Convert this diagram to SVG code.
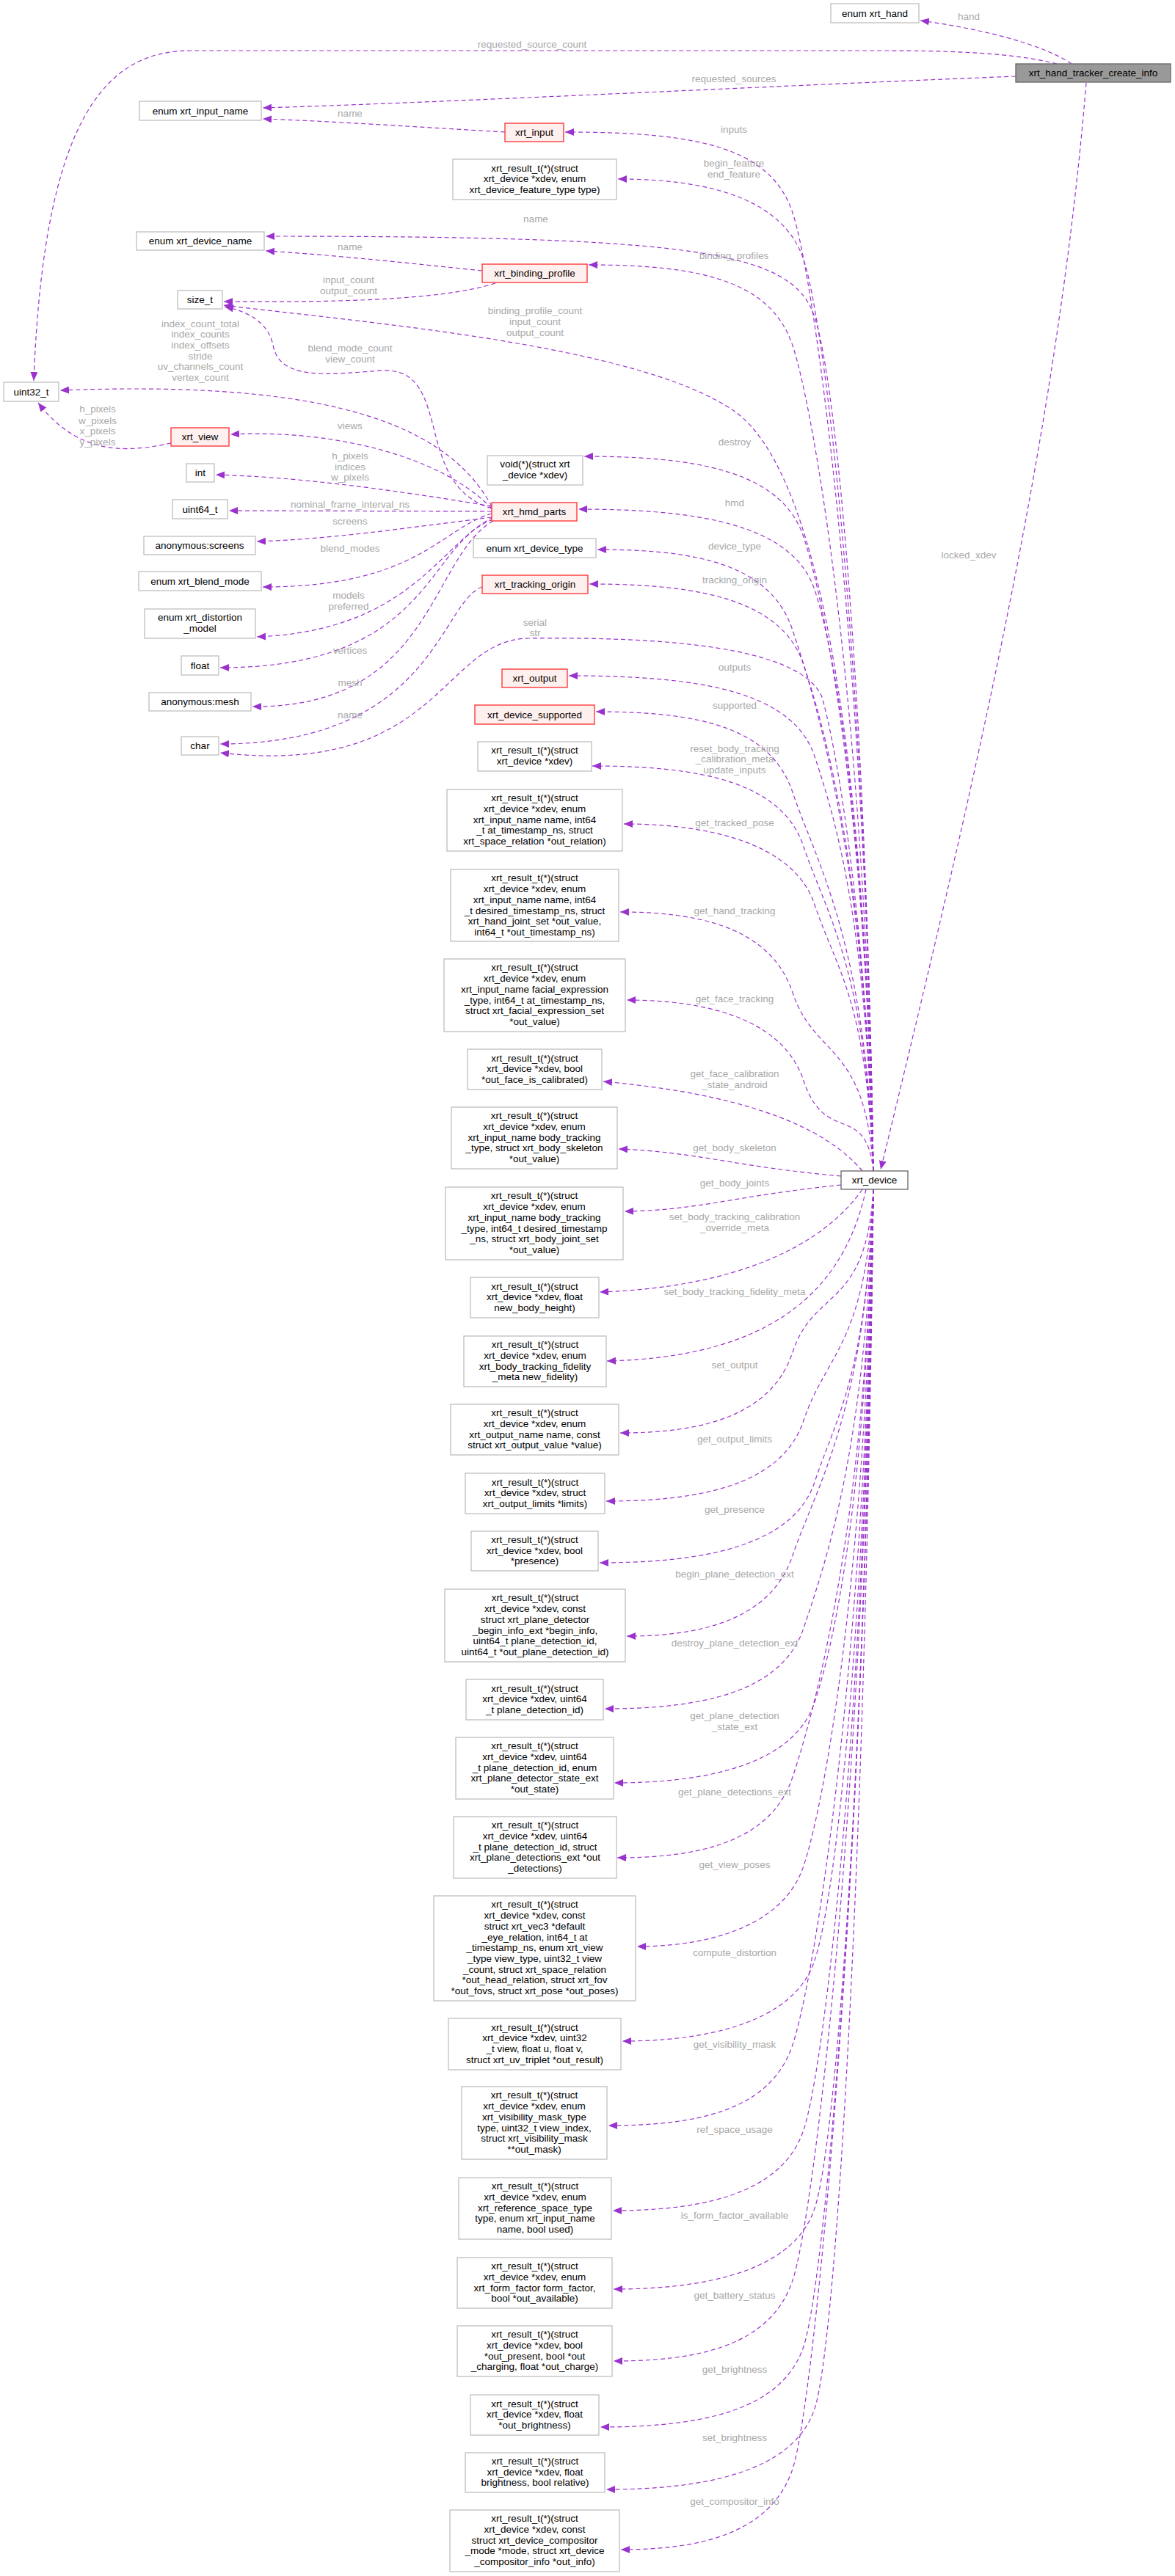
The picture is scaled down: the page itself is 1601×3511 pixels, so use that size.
<svg xmlns="http://www.w3.org/2000/svg" width="1601" height="3511" viewBox="0 0 1601 3511">
<style>
text{font-family:"Liberation Sans",Arial,sans-serif;font-size:13.5px}
.n rect{fill:#fff;stroke:#bfbfbf;stroke-width:1.3}
.r rect{fill:#fff0f0;stroke:#ff2b2b;stroke-width:1.3}
.g rect{fill:#999;stroke:#666;stroke-width:1.3}
.d rect{fill:#fff;stroke:#666;stroke-width:1.3}
.n text,.r text,.g text,.d text{fill:#000;text-anchor:middle}
#edges path{fill:none;stroke:#9a32cd;stroke-width:1.2;stroke-dasharray:6,4;marker-end:url(#a)}
#labels text{fill:#a8a8a8;text-anchor:middle}
</style>
<defs><marker id="a" markerUnits="userSpaceOnUse" markerWidth="13" markerHeight="10" refX="12" refY="5" orient="auto"><path d="M0,0 L12,5 L0,10 z" fill="#9a32cd"/></marker></defs>
<rect width="1601" height="3511" fill="#fff"/>
<g id="edges">
<path d="M1460,87 C1420,60 1340,40 1254,28"/>
<path d="M1440,87 C1380,72 1300,69 1200,69 L260,69 C150,69 60,150 46,519"/>
<path d="M1384,104 C1100,115 600,140 358,147"/>
<path d="M1480,113 C1440,600 1320,1100 1200,1594"/>
<path d="M688,180 C600,175 450,165 358,162"/>
<path d="M657,369 C550,358 450,347 362,342"/>
<path d="M675,386 C600,410 450,412 305,411"/>
<path d="M670,693 C560,660 620,500 520,505 C450,510 380,520 372,470 C365,440 340,425 306,418"/>
<path d="M670,690 C600,560 400,520 82,532"/>
<path d="M233,604 C180,615 110,625 52,549"/>
<path d="M670,693 C600,620 450,585 314,592"/>
<path d="M670,690 C520,665 400,650 294,647"/>
<path d="M670,697 L312,696"/>
<path d="M670,705 C550,720 450,735 350,738"/>
<path d="M670,700 C600,720 570,800 358,800"/>
<path d="M672,705 C600,740 560,860 350,868"/>
<path d="M672,708 C580,740 590,910 300,910"/>
<path d="M672,710 C585,760 590,965 344,963"/>
<path d="M657,800 C600,820 590,1014 300,1014"/>
<path d="M1190,1596 C1180,1250 1140,1020 1120,950 C1090,880 900,868 720,870 C600,872 600,1060 300,1026"/>
<path d="M1190,1596 C1180,888 1110,380 1080,290 S950,180 770,180"/>
<path d="M1190,1596 C1180,920 1125,444 1095,354 S950,244 842,244"/>
<path d="M1190,1596 C1180,959 1140,522 1110,432 S950,322 362,322"/>
<path d="M1190,1596 C1180,978 1110,561 1080,471 S950,361 802,361"/>
<path d="M1190,1596 C1180,1100 1130,650 1000,560 S500,440 305,416"/>
<path d="M1190,1596 C1180,1109 1125,822 1095,732 S950,622 796,622"/>
<path d="M1190,1596 C1180,1145 1140,894 1110,804 S950,694 788,694"/>
<path d="M1190,1596 C1180,1172 1110,949 1080,859 S950,749 814,749"/>
<path d="M1190,1596 C1180,1196 1125,996 1095,906 S950,796 803,796"/>
<path d="M1190,1596 C1180,1258 1140,1121 1110,1031 S950,921 775,921"/>
<path d="M1190,1596 C1180,1283 1110,1170 1080,1080 S950,970 812,970"/>
<path d="M1190,1596 C1180,1320 1125,1244 1095,1154 S950,1044 807,1044"/>
<path d="M1190,1596 C1180,1360 1140,1323 1110,1233 S950,1123 850,1123"/>
<path d="M1190,1596 C1180,1420 1110,1443 1080,1353 S950,1243 845,1243"/>
<path d="M1190,1596 C1180,1500 1125,1563 1095,1473 S950,1363 854,1363"/>
<path d="M1175,1596 C1120,1530 1000,1490 822,1474"/>
<path d="M1146,1603 C1000,1590 950,1570 843,1566"/>
<path d="M1146,1615 C1000,1630 950,1650 851,1651"/>
<path d="M1175,1621 C1120,1700 1000,1755 817,1761"/>
<path d="M1180,1621 C1150,1760 1050,1850 827,1855"/>
<path d="M1190,1621 C1180,1787 1110,1753 1080,1843 S950,1953 845,1953"/>
<path d="M1190,1621 C1180,1833 1125,1846 1095,1936 S950,2046 826,2046"/>
<path d="M1190,1621 C1180,1876 1140,1930 1110,2020 S950,2130 817,2130"/>
<path d="M1190,1621 C1180,1926 1110,2030 1080,2120 S950,2230 854,2230"/>
<path d="M1190,1621 C1180,1975 1125,2129 1095,2219 S950,2329 824,2329"/>
<path d="M1190,1621 C1180,2026 1140,2230 1110,2320 S950,2430 837,2430"/>
<path d="M1190,1621 C1180,2077 1110,2332 1080,2422 S950,2532 841,2532"/>
<path d="M1190,1621 C1180,2137 1125,2453 1095,2543 S950,2653 868,2653"/>
<path d="M1190,1621 C1180,2202 1140,2582 1110,2672 S950,2782 848,2782"/>
<path d="M1190,1621 C1180,2259 1110,2697 1080,2787 S950,2897 829,2897"/>
<path d="M1190,1621 C1180,2317 1125,2813 1095,2903 S950,3013 835,3013"/>
<path d="M1190,1621 C1180,2371 1140,2920 1110,3010 S950,3120 836,3120"/>
<path d="M1190,1621 C1180,2420 1110,3018 1080,3108 S950,3218 836,3218"/>
<path d="M1190,1621 C1180,2465 1125,3108 1095,3198 S950,3308 818,3308"/>
<path d="M1190,1621 C1180,2507 1140,3193 1110,3283 S950,3393 826,3393"/>
<path d="M1190,1621 C1180,2548 1110,3275 1080,3365 S950,3475 846,3475"/>
</g>
<g id="labels">
<text x="1320" y="27">hand</text>
<text x="725" y="65">requested_source_count</text>
<text x="1000" y="112">requested_sources</text>
<text x="477" y="159">name</text>
<text x="1000" y="181">inputs</text>
<text x="1000" y="227">begin_feature</text><text x="1000" y="242">end_feature</text>
<text x="730" y="303">name</text>
<text x="477" y="341">name</text>
<text x="1000" y="353">binding_profiles</text>
<text x="475" y="386">input_count</text><text x="475" y="401">output_count</text>
<text x="729" y="428">binding_profile_count</text><text x="729" y="443">input_count</text><text x="729" y="458">output_count</text>
<text x="273" y="446">index_count_total</text><text x="273" y="460">index_counts</text><text x="273" y="475">index_offsets</text><text x="273" y="490">stride</text><text x="273" y="504">uv_channels_count</text><text x="273" y="519">vertex_count</text>
<text x="477" y="479">blend_mode_count</text><text x="477" y="494">view_count</text>
<text x="133" y="562">h_pixels</text><text x="133" y="578">w_pixels</text><text x="133" y="592">x_pixels</text><text x="133" y="607">y_pixels</text>
<text x="477" y="585">views</text>
<text x="1001" y="607">destroy</text>
<text x="477" y="626">h_pixels</text><text x="477" y="641">indices</text><text x="477" y="655">w_pixels</text>
<text x="1001" y="690">hmd</text>
<text x="477" y="692">nominal_frame_interval_ns</text>
<text x="477" y="715">screens</text>
<text x="1001" y="749">device_type</text>
<text x="477" y="752">blend_modes</text>
<text x="1320" y="761">locked_xdev</text>
<text x="1001" y="795">tracking_origin</text>
<text x="475" y="816">models</text><text x="475" y="831">preferred</text>
<text x="729" y="853">serial</text><text x="729" y="867">str</text>
<text x="477" y="891">vertices</text>
<text x="1001" y="914">outputs</text>
<text x="477" y="935">mesh</text>
<text x="1001" y="966">supported</text>
<text x="477" y="979">name</text>
<text x="1001" y="1025">reset_body_tracking</text><text x="1001" y="1039">_calibration_meta</text><text x="1001" y="1054">update_inputs</text>
<text x="1001" y="1126">get_tracked_pose</text>
<text x="1001" y="1246">get_hand_tracking</text>
<text x="1001" y="1366">get_face_tracking</text>
<text x="1001" y="1468">get_face_calibration</text><text x="1001" y="1483">_state_android</text>
<text x="1001" y="1569">get_body_skeleton</text>
<text x="1001" y="1617">get_body_joints</text>
<text x="1001" y="1663">set_body_tracking_calibration</text><text x="1001" y="1678">_override_meta</text>
<text x="1001" y="1765">set_body_tracking_fidelity_meta</text>
<text x="1001" y="1865">set_output</text>
<text x="1001" y="1966">get_output_limits</text>
<text x="1001" y="2062">get_presence</text>
<text x="1001" y="2150">begin_plane_detection_ext</text>
<text x="1001" y="2244">destroy_plane_detection_ext</text>
<text x="1001" y="2343">get_plane_detection</text><text x="1001" y="2358">_state_ext</text>
<text x="1001" y="2447">get_plane_detections_ext</text>
<text x="1001" y="2546">get_view_poses</text>
<text x="1001" y="2666">compute_distortion</text>
<text x="1001" y="2791">get_visibility_mask</text>
<text x="1001" y="2907">ref_space_usage</text>
<text x="1001" y="3024">is_form_factor_available</text>
<text x="1001" y="3133">get_battery_status</text>
<text x="1001" y="3234">get_brightness</text>
<text x="1001" y="3327">set_brightness</text>
<text x="1001" y="3414">get_compositor_info</text>
</g>
<g id="n1" class="n"><rect x="1132" y="5" width="120" height="26"/><text x="1192" y="22.5">enum xrt_hand</text></g>
<g id="n2" class="g"><rect x="1384" y="87" width="211" height="25"/><text x="1489.5" y="104">xrt_hand_tracker_create_info</text></g>
<g id="n3" class="n"><rect x="190" y="138" width="166" height="26"/><text x="273" y="155.5">enum xrt_input_name</text></g>
<g id="n4" class="r"><rect x="688" y="168" width="80" height="25"/><text x="728" y="185">xrt_input</text></g>
<g id="n5" class="n"><rect x="617" y="217" width="223" height="55"/><text x="728.5" y="233.5">xrt_result_t(*)(struct<tspan x="728.5" dy="14.7">xrt_device *xdev, enum</tspan><tspan x="728.5" dy="14.7">xrt_device_feature_type type)</tspan></text></g>
<g id="n6" class="n"><rect x="186" y="316" width="174" height="25"/><text x="273" y="333">enum xrt_device_name</text></g>
<g id="n7" class="r"><rect x="657" y="360" width="143" height="25"/><text x="728.5" y="377">xrt_binding_profile</text></g>
<g id="n8" class="n"><rect x="242" y="396" width="61" height="25"/><text x="272.5" y="413">size_t</text></g>
<g id="n9" class="n"><rect x="5" y="521" width="75" height="26"/><text x="42.5" y="538.5">uint32_t</text></g>
<g id="n10" class="r"><rect x="233" y="583" width="79" height="25"/><text x="272.5" y="600">xrt_view</text></g>
<g id="n11" class="n"><rect x="254" y="632" width="38" height="25"/><text x="273" y="649">int</text></g>
<g id="n12" class="n"><rect x="235" y="681" width="75" height="26"/><text x="272.5" y="698.5">uint64_t</text></g>
<g id="n13" class="n"><rect x="196" y="731" width="152" height="25"/><text x="272" y="748">anonymous:screens</text></g>
<g id="n14" class="n"><rect x="189" y="779" width="167" height="26"/><text x="272.5" y="796.5">enum xrt_blend_mode</text></g>
<g id="n15" class="n"><rect x="197" y="830" width="151" height="40"/><text x="272.5" y="846.3">enum xrt_distortion<tspan x="272.5" dy="14.7">_model</tspan></text></g>
<g id="n16" class="n"><rect x="247" y="894" width="51" height="26"/><text x="272.5" y="911.5">float</text></g>
<g id="n17" class="n"><rect x="203" y="944" width="139" height="25"/><text x="272.5" y="961">anonymous:mesh</text></g>
<g id="n18" class="n"><rect x="247" y="1004" width="51" height="25"/><text x="272.5" y="1021">char</text></g>
<g id="n19" class="n"><rect x="664" y="621" width="130" height="40"/><text x="729" y="637.3">void(*)(struct xrt<tspan x="729" dy="14.7">_device *xdev)</tspan></text></g>
<g id="n20" class="r"><rect x="670" y="685" width="116" height="25"/><text x="728" y="702">xrt_hmd_parts</text></g>
<g id="n21" class="n"><rect x="645" y="734" width="167" height="26"/><text x="728.5" y="751.5">enum xrt_device_type</text></g>
<g id="n22" class="r"><rect x="657" y="784" width="144" height="25"/><text x="729" y="801">xrt_tracking_origin</text></g>
<g id="n23" class="r"><rect x="684" y="912" width="89" height="25"/><text x="728.5" y="929">xrt_output</text></g>
<g id="n24" class="r"><rect x="647" y="961" width="163" height="26"/><text x="728.5" y="978.5">xrt_device_supported</text></g>
<g id="n25" class="n"><rect x="651" y="1011" width="155" height="40"/><text x="728.5" y="1027.3">xrt_result_t(*)(struct<tspan x="728.5" dy="14.7">xrt_device *xdev)</tspan></text></g>
<g id="n26" class="n"><rect x="609" y="1076" width="239" height="84"/><text x="728.5" y="1092.3">xrt_result_t(*)(struct<tspan x="728.5" dy="14.7">xrt_device *xdev, enum</tspan><tspan x="728.5" dy="14.7">xrt_input_name name, int64</tspan><tspan x="728.5" dy="14.7">_t at_timestamp_ns, struct</tspan><tspan x="728.5" dy="14.7">xrt_space_relation *out_relation)</tspan></text></g>
<g id="n27" class="n"><rect x="614" y="1185" width="229" height="98"/><text x="728.5" y="1201.4">xrt_result_t(*)(struct<tspan x="728.5" dy="14.7">xrt_device *xdev, enum</tspan><tspan x="728.5" dy="14.7">xrt_input_name name, int64</tspan><tspan x="728.5" dy="14.7">_t desired_timestamp_ns, struct</tspan><tspan x="728.5" dy="14.7">xrt_hand_joint_set *out_value,</tspan><tspan x="728.5" dy="14.7">int64_t *out_timestamp_ns)</tspan></text></g>
<g id="n28" class="n"><rect x="605" y="1307" width="247" height="99"/><text x="728.5" y="1323.4">xrt_result_t(*)(struct<tspan x="728.5" dy="14.7">xrt_device *xdev, enum</tspan><tspan x="728.5" dy="14.7">xrt_input_name facial_expression</tspan><tspan x="728.5" dy="14.7">_type, int64_t at_timestamp_ns,</tspan><tspan x="728.5" dy="14.7">struct xrt_facial_expression_set</tspan><tspan x="728.5" dy="14.7">*out_value)</tspan></text></g>
<g id="n29" class="n"><rect x="637" y="1430" width="183" height="55"/><text x="728.5" y="1446.5">xrt_result_t(*)(struct<tspan x="728.5" dy="14.7">xrt_device *xdev, bool</tspan><tspan x="728.5" dy="14.7">*out_face_is_calibrated)</tspan></text></g>
<g id="n30" class="n"><rect x="615" y="1509" width="226" height="84"/><text x="728" y="1525.3">xrt_result_t(*)(struct<tspan x="728" dy="14.7">xrt_device *xdev, enum</tspan><tspan x="728" dy="14.7">xrt_input_name body_tracking</tspan><tspan x="728" dy="14.7">_type, struct xrt_body_skeleton</tspan><tspan x="728" dy="14.7">*out_value)</tspan></text></g>
<g id="n31" class="d"><rect x="1146" y="1596" width="91" height="25"/><text x="1191.5" y="1613">xrt_device</text></g>
<g id="n32" class="n"><rect x="607" y="1618" width="242" height="99"/><text x="728" y="1634.4">xrt_result_t(*)(struct<tspan x="728" dy="14.7">xrt_device *xdev, enum</tspan><tspan x="728" dy="14.7">xrt_input_name body_tracking</tspan><tspan x="728" dy="14.7">_type, int64_t desired_timestamp</tspan><tspan x="728" dy="14.7">_ns, struct xrt_body_joint_set</tspan><tspan x="728" dy="14.7">*out_value)</tspan></text></g>
<g id="n33" class="n"><rect x="641" y="1741" width="175" height="55"/><text x="728.5" y="1757.5">xrt_result_t(*)(struct<tspan x="728.5" dy="14.7">xrt_device *xdev, float</tspan><tspan x="728.5" dy="14.7">new_body_height)</tspan></text></g>
<g id="n34" class="n"><rect x="632" y="1821" width="194" height="69"/><text x="729" y="1837.1">xrt_result_t(*)(struct<tspan x="729" dy="14.7">xrt_device *xdev, enum</tspan><tspan x="729" dy="14.7">xrt_body_tracking_fidelity</tspan><tspan x="729" dy="14.7">_meta new_fidelity)</tspan></text></g>
<g id="n35" class="n"><rect x="614" y="1914" width="229" height="69"/><text x="728.5" y="1930.1">xrt_result_t(*)(struct<tspan x="728.5" dy="14.7">xrt_device *xdev, enum</tspan><tspan x="728.5" dy="14.7">xrt_output_name name, const</tspan><tspan x="728.5" dy="14.7">struct xrt_output_value *value)</tspan></text></g>
<g id="n36" class="n"><rect x="634" y="2008" width="190" height="55"/><text x="729" y="2024.5">xrt_result_t(*)(struct<tspan x="729" dy="14.7">xrt_device *xdev, struct</tspan><tspan x="729" dy="14.7">xrt_output_limits *limits)</tspan></text></g>
<g id="n37" class="n"><rect x="642" y="2087" width="173" height="54"/><text x="728.5" y="2103">xrt_result_t(*)(struct<tspan x="728.5" dy="14.7">xrt_device *xdev, bool</tspan><tspan x="728.5" dy="14.7">*presence)</tspan></text></g>
<g id="n38" class="n"><rect x="606" y="2166" width="246" height="99"/><text x="729" y="2182.4">xrt_result_t(*)(struct<tspan x="729" dy="14.7">xrt_device *xdev, const</tspan><tspan x="729" dy="14.7">struct xrt_plane_detector</tspan><tspan x="729" dy="14.7">_begin_info_ext *begin_info,</tspan><tspan x="729" dy="14.7">uint64_t plane_detection_id,</tspan><tspan x="729" dy="14.7">uint64_t *out_plane_detection_id)</tspan></text></g>
<g id="n39" class="n"><rect x="635" y="2289" width="187" height="55"/><text x="728.5" y="2305.5">xrt_result_t(*)(struct<tspan x="728.5" dy="14.7">xrt_device *xdev, uint64</tspan><tspan x="728.5" dy="14.7">_t plane_detection_id)</tspan></text></g>
<g id="n40" class="n"><rect x="621" y="2368" width="215" height="84"/><text x="728.5" y="2384.3">xrt_result_t(*)(struct<tspan x="728.5" dy="14.7">xrt_device *xdev, uint64</tspan><tspan x="728.5" dy="14.7">_t plane_detection_id, enum</tspan><tspan x="728.5" dy="14.7">xrt_plane_detector_state_ext</tspan><tspan x="728.5" dy="14.7">*out_state)</tspan></text></g>
<g id="n41" class="n"><rect x="618" y="2476" width="222" height="84"/><text x="729" y="2492.3">xrt_result_t(*)(struct<tspan x="729" dy="14.7">xrt_device *xdev, uint64</tspan><tspan x="729" dy="14.7">_t plane_detection_id, struct</tspan><tspan x="729" dy="14.7">xrt_plane_detections_ext *out</tspan><tspan x="729" dy="14.7">_detections)</tspan></text></g>
<g id="n42" class="n"><rect x="591" y="2584" width="275" height="143"/><text x="728.5" y="2600.4">xrt_result_t(*)(struct<tspan x="728.5" dy="14.7">xrt_device *xdev, const</tspan><tspan x="728.5" dy="14.7">struct xrt_vec3 *default</tspan><tspan x="728.5" dy="14.7">_eye_relation, int64_t at</tspan><tspan x="728.5" dy="14.7">_timestamp_ns, enum xrt_view</tspan><tspan x="728.5" dy="14.7">_type view_type, uint32_t view</tspan><tspan x="728.5" dy="14.7">_count, struct xrt_space_relation</tspan><tspan x="728.5" dy="14.7">*out_head_relation, struct xrt_fov</tspan><tspan x="728.5" dy="14.7">*out_fovs, struct xrt_pose *out_poses)</tspan></text></g>
<g id="n43" class="n"><rect x="611" y="2751" width="235" height="70"/><text x="728.5" y="2767.6">xrt_result_t(*)(struct<tspan x="728.5" dy="14.7">xrt_device *xdev, uint32</tspan><tspan x="728.5" dy="14.7">_t view, float u, float v,</tspan><tspan x="728.5" dy="14.7">struct xrt_uv_triplet *out_result)</tspan></text></g>
<g id="n44" class="n"><rect x="629" y="2844" width="198" height="99"/><text x="728" y="2860.4">xrt_result_t(*)(struct<tspan x="728" dy="14.7">xrt_device *xdev, enum</tspan><tspan x="728" dy="14.7">xrt_visibility_mask_type</tspan><tspan x="728" dy="14.7">type, uint32_t view_index,</tspan><tspan x="728" dy="14.7">struct xrt_visibility_mask</tspan><tspan x="728" dy="14.7">**out_mask)</tspan></text></g>
<g id="n45" class="n"><rect x="625" y="2968" width="208" height="84"/><text x="729" y="2984.3">xrt_result_t(*)(struct<tspan x="729" dy="14.7">xrt_device *xdev, enum</tspan><tspan x="729" dy="14.7">xrt_reference_space_type</tspan><tspan x="729" dy="14.7">type, enum xrt_input_name</tspan><tspan x="729" dy="14.7">name, bool used)</tspan></text></g>
<g id="n46" class="n"><rect x="623" y="3077" width="211" height="69"/><text x="728.5" y="3093.1">xrt_result_t(*)(struct<tspan x="728.5" dy="14.7">xrt_device *xdev, enum</tspan><tspan x="728.5" dy="14.7">xrt_form_factor form_factor,</tspan><tspan x="728.5" dy="14.7">bool *out_available)</tspan></text></g>
<g id="n47" class="n"><rect x="623" y="3170" width="211" height="69"/><text x="728.5" y="3186.1">xrt_result_t(*)(struct<tspan x="728.5" dy="14.7">xrt_device *xdev, bool</tspan><tspan x="728.5" dy="14.7">*out_present, bool *out</tspan><tspan x="728.5" dy="14.7">_charging, float *out_charge)</tspan></text></g>
<g id="n48" class="n"><rect x="641" y="3264" width="175" height="55"/><text x="728.5" y="3280.5">xrt_result_t(*)(struct<tspan x="728.5" dy="14.7">xrt_device *xdev, float</tspan><tspan x="728.5" dy="14.7">*out_brightness)</tspan></text></g>
<g id="n49" class="n"><rect x="634" y="3343" width="190" height="54"/><text x="729" y="3359">xrt_result_t(*)(struct<tspan x="729" dy="14.7">xrt_device *xdev, float</tspan><tspan x="729" dy="14.7">brightness, bool relative)</tspan></text></g>
<g id="n50" class="n"><rect x="613" y="3421" width="231" height="84"/><text x="728.5" y="3437.3">xrt_result_t(*)(struct<tspan x="728.5" dy="14.7">xrt_device *xdev, const</tspan><tspan x="728.5" dy="14.7">struct xrt_device_compositor</tspan><tspan x="728.5" dy="14.7">_mode *mode, struct xrt_device</tspan><tspan x="728.5" dy="14.7">_compositor_info *out_info)</tspan></text></g>
</svg>
